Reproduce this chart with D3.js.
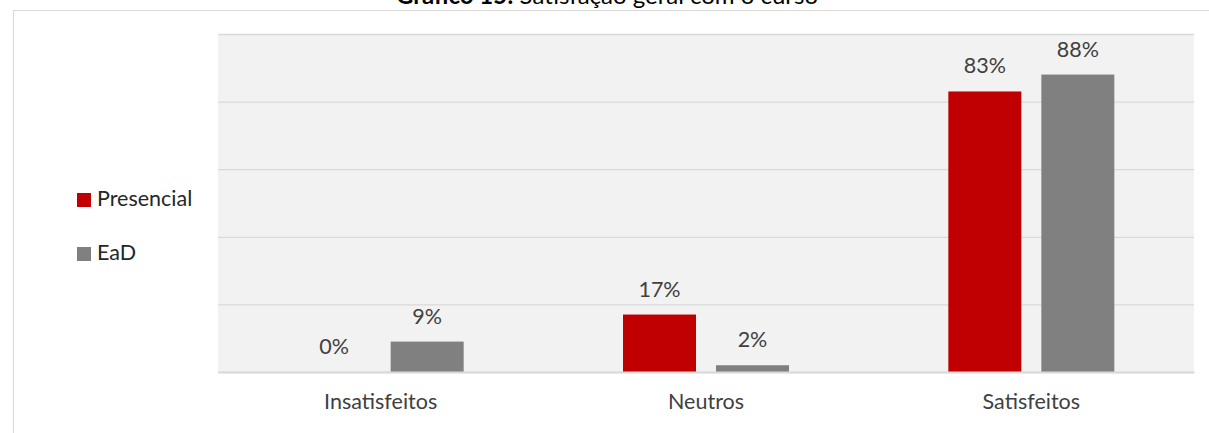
<!DOCTYPE html>
<html>
<head>
<meta charset="utf-8">
<script src="https://cdn.jsdelivr.net/npm/d3@7"></script>
<style>
    html, body { margin: 0; padding: 0; background: #fff; }
    svg { display: block; font-family: Lato, "Open Sans", sans-serif; }
</style>
</head>
<body>
<div id="chart"></div>
<script>
    // Data
    var categories = ["Insatisfeitos", "Neutros", "Satisfeitos"];
    var seriesNames = ["Presencial", "EaD"];
    var presencial = [0, 0.17, 0.83];
    var ead = [0.09, 0.02, 0.88];
    var yTicks = [0, 0.2, 0.4, 0.6, 0.8, 1];
    var titleBold = "Gráfico 15:";
    var titleText = " Satisfação geral com o curso";

    var colors = { "Presencial": "#c00000", "EaD": "#808080" };
    var values = { "Presencial": presencial, "EaD": ead };

    var width = 1209, height = 433;
    var plot = { left: 218, right: 1194, top: 34, bottom: 372 };
    var fontSize = 21.5;

    var svg = d3.select("#chart").append("svg")
        .attr("width", width)
        .attr("height", height);

    // Chart frame
    svg.append("rect")
        .attr("x", 13.5).attr("y", 10.5)
        .attr("width", 1230).attr("height", 460)
        .attr("fill", "#fff")
        .attr("stroke", "#d9d9d9")
        .attr("stroke-width", 1);

    // Title (partly cut off at the top, as in the source)
    var title = svg.append("text")
        .attr("x", 607).attr("y", 4)
        .attr("text-anchor", "middle")
        .attr("font-size", 24)
        .attr("fill", "#000");
    title.append("tspan").attr("font-weight", "bold").text(titleBold);
    title.append("tspan").text(titleText);

    // Scales
    var x0 = d3.scaleBand()
        .domain(categories)
        .range([plot.left, plot.right]);

    var x1 = d3.scaleBand()
        .domain(seriesNames)
        .range([0, 166])
        .paddingInner(0.215);

    var y = d3.scaleLinear()
        .domain([0, 1])
        .range([plot.bottom, plot.top]);

    // Plot background
    svg.append("rect")
        .attr("x", plot.left).attr("y", plot.top)
        .attr("width", plot.right - plot.left)
        .attr("height", plot.bottom - plot.top)
        .attr("fill", "#f2f2f2");

    // Gridlines
    var grid = svg.append("g")
        .attr("transform", "translate(" + plot.left + ",0)")
        .call(d3.axisLeft(y).tickValues(yTicks).tickSize(-(plot.right - plot.left)).tickFormat(""));
    grid.select(".domain").remove();
    grid.selectAll(".tick line").attr("stroke", "#d9d9d9").attr("stroke-width", 1.3);

    // Bars
    var groups = svg.selectAll(".group")
        .data(categories)
        .enter().append("g")
        .attr("class", "group")
        .attr("transform", function(d) {
            return "translate(" + (x0(d) + x0.bandwidth() / 2 - 83) + ",0)";
        });

    var rows = function(d, i) {
        return seriesNames.map(function(s) { return { key: s, value: values[s][i] }; });
    };

    groups.selectAll("rect")
        .data(rows)
        .enter().append("rect")
        .attr("x", function(d) { return x1(d.key); })
        .attr("width", x1.bandwidth())
        .attr("y", function(d) { return y(d.value); })
        .attr("height", function(d) { return y(0) - y(d.value); })
        .attr("fill", function(d) { return colors[d.key]; });

    groups.selectAll(".label")
        .data(rows)
        .enter().append("text")
        .attr("class", "label")
        .attr("x", function(d) { return x1(d.key) + x1.bandwidth() / 2; })
        .attr("y", function(d) { return y(d.value) - 18; })
        .attr("text-anchor", "middle")
        .attr("font-size", fontSize)
        .attr("fill", "#404040")
        .text(function(d) { return Math.round(d.value * 100) + "%"; });

    // X axis
    var xAxis = svg.append("g")
        .attr("transform", "translate(0," + plot.bottom + ")")
        .call(d3.axisBottom(x0).tickSize(0).tickPadding(22));
    xAxis.select(".domain").attr("stroke", "#d9d9d9").attr("stroke-width", 2);
    xAxis.selectAll("text")
        .attr("font-size", fontSize)
        .attr("font-family", "Lato, 'Open Sans', sans-serif")
        .attr("fill", "#404040");

    // Legend
    var legend = svg.selectAll(".legend")
        .data(seriesNames)
        .enter().append("g")
        .attr("class", "legend")
        .attr("transform", function(d, i) { return "translate(77," + (193 + i * 54) + ")"; });

    legend.append("rect")
        .attr("width", 14).attr("height", 14)
        .attr("fill", function(d) { return colors[d]; });

    legend.append("text")
        .attr("x", 20).attr("y", 13)
        .attr("font-size", fontSize)
        .attr("fill", "#262626")
        .text(function(d) { return d; });
</script>
</body>
</html>
